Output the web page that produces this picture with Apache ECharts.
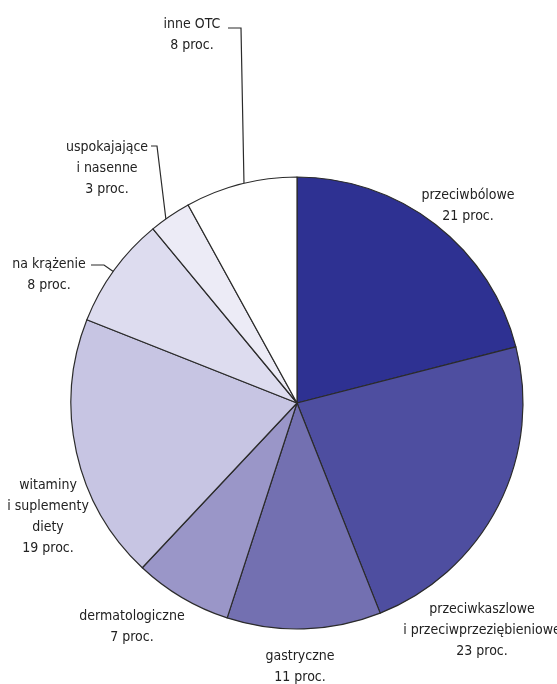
<!DOCTYPE html>
<html>
<head>
<meta charset="utf-8">
<script src="https://cdn.jsdelivr.net/npm/echarts@6/dist/echarts.min.js"></script>
<style>
html, body { margin: 0; padding: 0; background: #fff; }
#chart { width: 557px; height: 684px; }
</style>
</head>
<body>
<div id="chart"></div>
<script>
// kategorie i udziały (proc.)
var categories = [
	'przeciwbólowe',
	'przeciwkaszlowe\ni przeciwprzeziębieniowe',
	'gastryczne',
	'dermatologiczne',
	'witaminy\ni suplementy\ndiety',
	'na krążenie',
	'uspokajające\ni nasenne',
	'inne OTC'
];
var shares = [21, 23, 11, 7, 19, 8, 3, 8];
var colors = ['#2e3192', '#4e4ea0', '#7370b1', '#9a96c8', '#c7c5e3', '#dddcef', '#ecebf6', '#ffffff'];

// pozycje etykiet (środek bloku tekstu)
var labelPos = [
	[468, 206], [482, 630], [300, 667], [132, 627],
	[48, 517], [49, 275], [107, 168], [192, 35]
];
// linie odniesienia (tylko dla trzech etykiet)
var leaders = {
	5: [[91, 265], [104, 265], [114, 272]],
	6: [[151, 146], [157, 146], [166, 220]],
	7: [[228, 28], [241, 28], [244, 184]]
};

var chart = echarts.init(document.getElementById('chart'));

var seriesData = [];
for (var i = 0; i < categories.length; i++) {
	seriesData.push({
		name: categories[i],
		value: shares[i],
		itemStyle: { color: colors[i] },
		labelLine: { show: !!leaders[i] }
	});
}

var option = {
	backgroundColor: '#ffffff',
	animation: false,
	series: [{
		type: 'pie',
		center: [297, 403],
		radius: 226,
		startAngle: 90,
		clockwise: true,
		itemStyle: { borderColor: '#2b2b2b', borderWidth: 1.2 },
		emphasis: { disabled: true },
		label: {
			show: true,
			position: 'outside',
			formatter: '{b}\n{c} proc.',
			fontFamily: "'Liberation Sans Narrow', 'DejaVu Sans Condensed', sans-serif",
			fontSize: 14,
			lineHeight: 21,
			color: '#222222',
			align: 'center',
			overflow: 'none',
			width: 200
		},
		labelLine: {
			show: false,
			lineStyle: { color: '#2b2b2b', width: 1.2 }
		},
		labelLayout: function (params) {
			var p = labelPos[params.dataIndex];
			var res = { x: p[0], y: p[1], align: 'center', verticalAlign: 'middle' };
			if (leaders[params.dataIndex]) {
				res.labelLinePoints = leaders[params.dataIndex];
			}
			return res;
		},
		data: seriesData
	}]
};

chart.setOption(option);
</script>
</body>
</html>
